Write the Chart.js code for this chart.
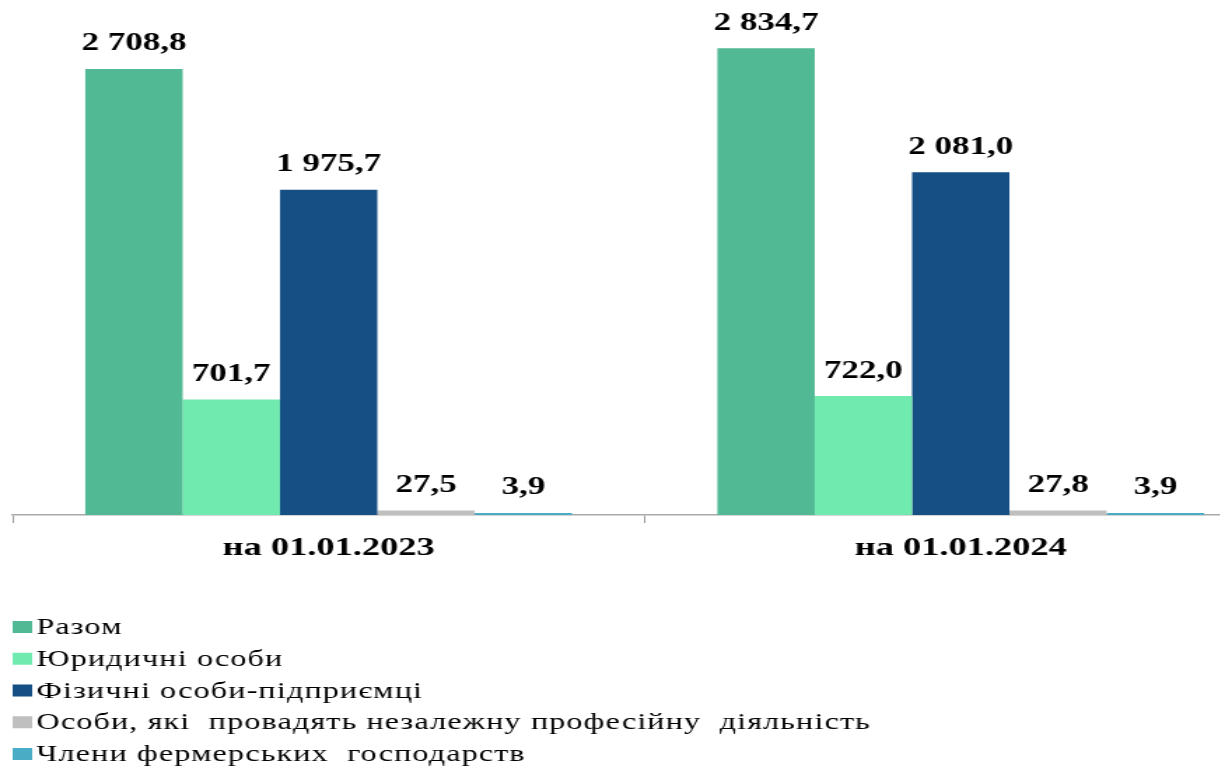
<!DOCTYPE html>
<html>
<head>
<meta charset="utf-8">
<script src="https://cdn.jsdelivr.net/npm/chart.js@4.4.1/dist/chart.umd.min.js"></script>
<style>
  html, body { margin: 0; padding: 0; background: #fff; overflow: hidden; }
  /* the original picture is stretched sideways, so the whole thing is drawn narrow and scaled */
  #wrap { position: absolute; left: 0; top: 0; width: 915px; height: 769px; transform: scaleX(1.4); transform-origin: 0 0; }
  #chart { position: absolute; left: 0; top: 0; }
</style>
</head>
<body>
<div id="wrap">
  <canvas id="chart" width="915" height="769"></canvas>
</div>
<script>
const categories = ["на 01.01.2023", "на 01.01.2024"];
const seriesNames = [
  "Разом",
  "Юридичні особи",
  "Фізичні особи-підприємці",
  "Особи, які  провадять незалежну професійну  діяльність",
  "Члени фермерських  господарств"
];
const razom = [2708.8, 2834.7];
const yurydychni = [701.7, 722.0];
const fizychni = [1975.7, 2081.0];
const nezalezhni = [27.5, 27.8];
const fermery = [3.9, 3.9];
const seriesColors = ["#52B995", "#71EAB0", "#154F84", "#BFBFBF", "#4BACC6"];

const seriesValues = [razom, yurydychni, fizychni, nezalezhni, fermery];

function fmt(v) {
  const parts = v.toFixed(1).split(".");
  const int = parts[0].replace(/\B(?=(\d{3})+(?!\d))/g, " ");
  return int + "," + parts[1];
}

// value labels over the bars
const barLabels = {
  id: "barLabels",
  afterDatasetsDraw(chart) {
    const ctx = chart.ctx;
    ctx.save();
    ctx.font = "bold 25px 'Liberation Serif', serif";
    ctx.fillStyle = "#000";
    ctx.textAlign = "center";
    ctx.textBaseline = "middle";
    chart.data.datasets.forEach((ds, i) => {
      chart.getDatasetMeta(i).data.forEach((bar, j) => {
        ctx.fillText(fmt(ds.data[j]), bar.x, bar.y - 25);
      });
    });
    ctx.restore();
  }
};

// one legend entry per row, under the axis, left aligned
const listLegend = {
  id: "listLegend",
  afterDraw(chart) {
    const ctx = chart.ctx;
    ctx.save();
    ctx.font = "23px 'Liberation Serif', serif";
    ctx.letterSpacing = "0.8px";
    ctx.textBaseline = "middle";
    ctx.textAlign = "left";
    chart.data.datasets.forEach((ds, i) => {
      const y = 627 + i * 31.75;
      ctx.fillStyle = ds.backgroundColor;
      ctx.fillRect(9, y - 6, 14, 12);
      ctx.fillStyle = "#000";
      ctx.fillText(ds.label, 26, y + 1);
    });
    ctx.restore();
  }
};

const chart = new Chart(document.getElementById("chart"), {
  type: "bar",
  data: {
    labels: categories,
    datasets: seriesNames.map((name, i) => ({
      label: name,
      data: seriesValues[i],
      backgroundColor: seriesColors[i],
      borderWidth: 0,
      minBarLength: 2,
      categoryPercentage: 0.77,
      barPercentage: 1
    }))
  },
  options: {
    responsive: false,
    animation: false,
    layout: { padding: { top: 21, left: 9, right: 3, bottom: 189 } },
    plugins: {
      legend: { display: false },
      tooltip: { enabled: false },
      title: { display: false }
    },
    scales: {
      x: {
        grid: { offset: true, drawOnChartArea: false, drawTicks: true, tickLength: 8, color: "#999" },
        border: { display: true, color: "#aaa", width: 1.5 },
        ticks: { color: "#000", padding: 10, font: { family: "'Liberation Serif', serif", size: 26, weight: "bold" } },
        afterFit(scale) { scale.height = 65; }
      },
      y: { display: false, min: 0, max: 3000 }
    }
  },
  plugins: [barLabels, listLegend]
});
</script>
</body>
</html>
